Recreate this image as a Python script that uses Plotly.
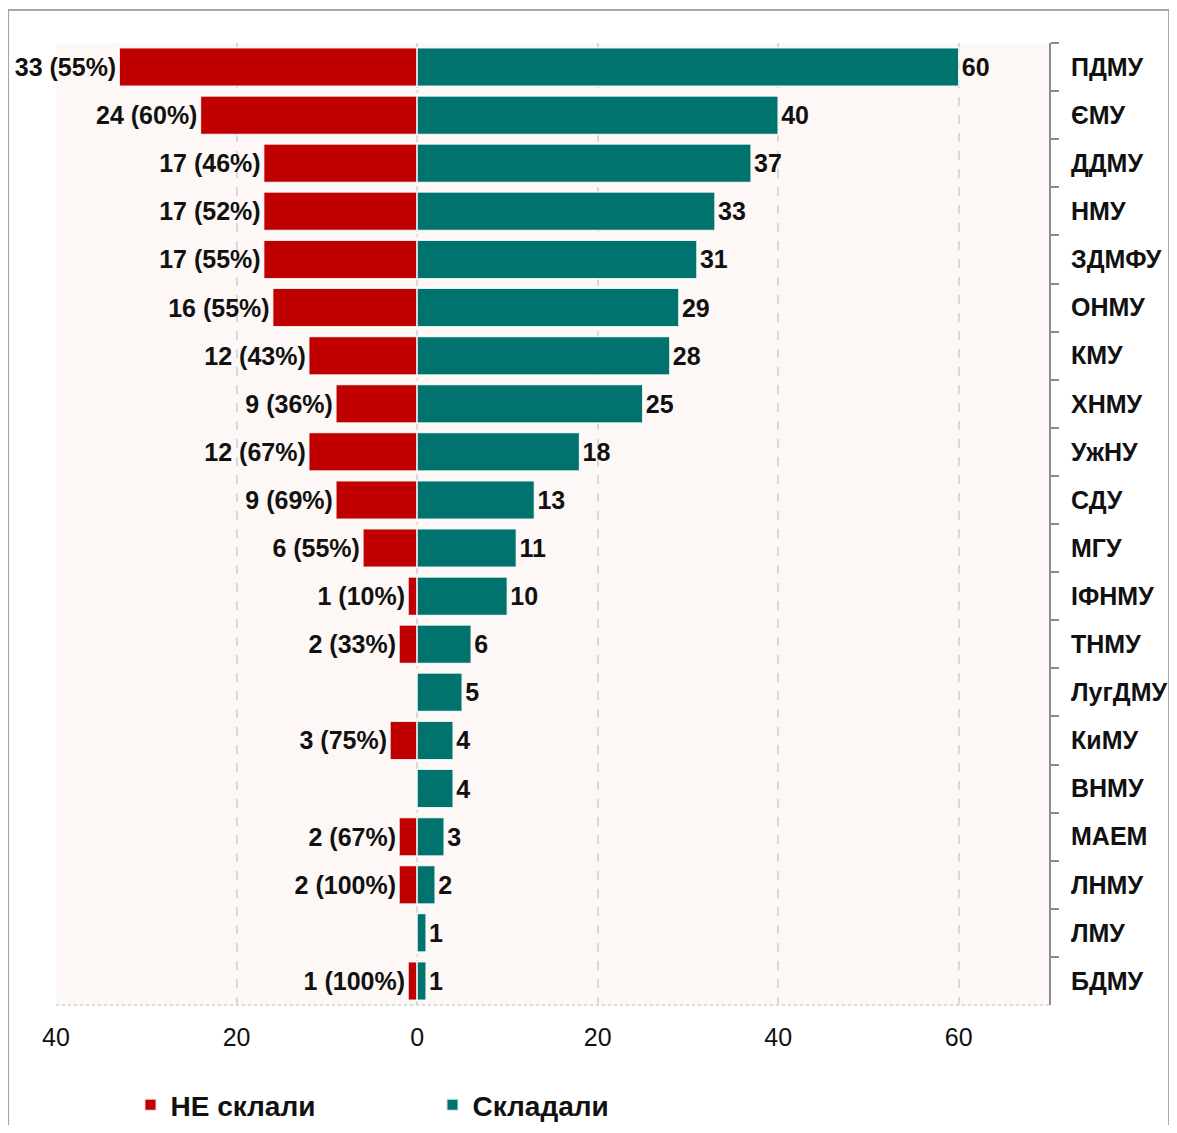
import plotly.graph_objects as go

universities = ["ПДМУ", "ЄМУ", "ДДМУ", "НМУ", "ЗДМФУ", "ОНМУ", "КМУ", "ХНМУ", "УжНУ", "СДУ",
                "МГУ", "ІФНМУ", "ТНМУ", "ЛугДМУ", "КиМУ", "ВНМУ", "МАЕМ", "ЛНМУ", "ЛМУ", "БДМУ"]
failed = [33, 24, 17, 17, 17, 16, 12, 9, 12, 9, 6, 1, 2, 0, 3, 0, 2, 2, 0, 1]
took = [60, 40, 37, 33, 31, 29, 28, 25, 18, 13, 11, 10, 6, 5, 4, 4, 3, 2, 1, 1]
tick_vals = [-40, -20, 0, 20, 40, 60]
tick_text = ["40", "20", "0", "20", "40", "60"]

fail_text = [f"{f} ({round(100 * f / t)}%)" if f > 0 else "" for f, t in zip(failed, took)]
took_text = [str(t) for t in took]

FONT = "Liberation Sans, Arial, sans-serif"
RED = "#C00000"
TEAL = "#00736F"

fig = go.Figure()
fig.add_trace(go.Bar(
    y=universities, x=[-f for f in failed], orientation="h", name="НЕ склали",
    marker=dict(color=RED, line=dict(color="rgba(255,255,255,0.85)", width=1.5)),
    text=fail_text, textposition="outside", cliponaxis=False, constraintext="none",
    textfont=dict(family=FONT, size=25, color="#111111", weight="bold"),
))
fig.add_trace(go.Bar(
    y=universities, x=took, orientation="h", name="Складали",
    marker=dict(color=TEAL, line=dict(color="rgba(255,255,255,0.85)", width=1.5)),
    text=took_text, textposition="outside", cliponaxis=False, constraintext="none",
    textfont=dict(family=FONT, size=25, color="#111111", weight="bold"),
))

# frame around the whole chart
fig.add_shape(type="rect", xref="paper", yref="paper",
              x0=-0.0483, x1=1.1209, y0=-0.16, y1=1.0343,
              line=dict(color="#A6A6A6", width=2), layer="below")
# dotted baseline and zero line
fig.add_shape(type="line", xref="x", yref="paper", x0=-40, x1=70, y0=0, y1=0,
              line=dict(color="#D0D0D0", width=1.5, dash="dot"), layer="below")
fig.add_shape(type="line", xref="x", yref="paper", x0=0, x1=0, y0=0, y1=1,
              line=dict(color="#D8D8D8", width=1.5, dash="dot"), layer="below")

fig.update_layout(
    width=1161, height=1117,
    margin=dict(l=48, r=120, t=35, b=120, autoexpand=False),
    paper_bgcolor="white", plot_bgcolor="#FDF8F5",
    barmode="relative", bargap=0.2,
    font=dict(family=FONT, color="#111111"),
    legend=dict(orientation="h", x=0.075, xanchor="left", y=-0.104, yanchor="middle",
                font=dict(family=FONT, size=28, color="#111111", weight="bold"),
                entrywidth=257, entrywidthmode="pixels", itemsizing="constant"),
    xaxis=dict(range=[-40, 70], tickvals=tick_vals, ticktext=tick_text,
               showgrid=True, gridcolor="#D9D9D9", griddash="dash", gridwidth=1.5,
               zeroline=False, showline=False, ticks="", automargin=False,
               ticklabelstandoff=15,
               tickfont=dict(family=FONT, size=25, color="#111111")),
    yaxis=dict(type="category", autorange="reversed", side="right",
               showline=True, linecolor="#8C8C8C", linewidth=2,
               ticks="outside", ticklen=8, tickcolor="#8C8C8C", tickwidth=2,
               tickson="boundaries", showgrid=False, zeroline=False, automargin=False,
               ticklabelstandoff=15,
               tickfont=dict(family=FONT, size=25, color="#111111", weight="bold")),
)

fig.write_html("out.html")
